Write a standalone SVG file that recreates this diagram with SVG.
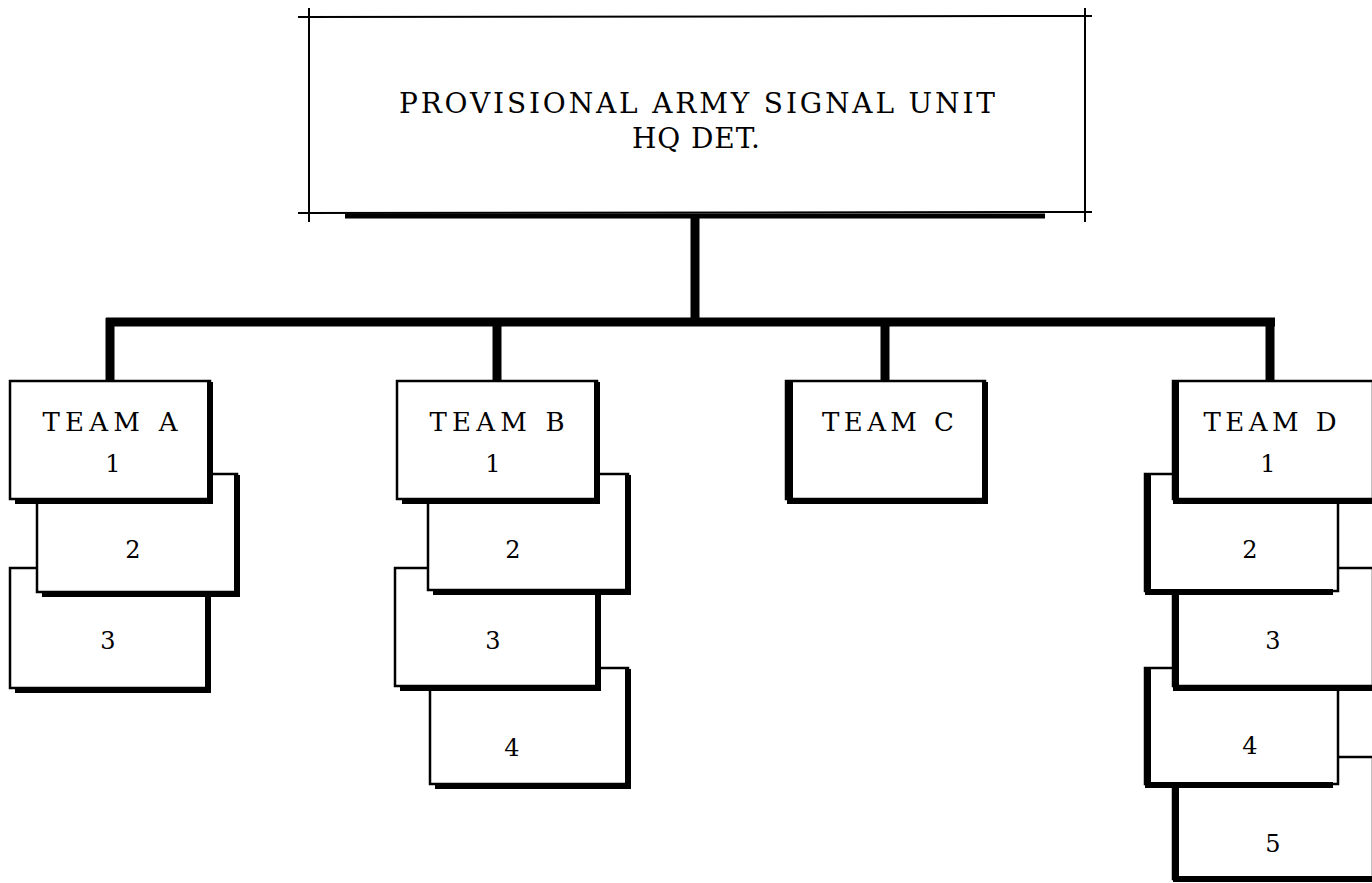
<svg xmlns="http://www.w3.org/2000/svg" width="1372" height="883" viewBox="0 0 1372 883">
<style>
.b{fill:#fff;stroke:#000;stroke-width:2.5}
.s{fill:none;stroke:#000;stroke-width:6;stroke-linecap:square}
.t{font-family:"DejaVu Serif","Liberation Serif",serif;font-size:26px;fill:#000;text-anchor:middle}
.n{font-family:"DejaVu Serif","Liberation Serif",serif;font-size:24px;fill:#000;text-anchor:middle}
.h{font-family:"DejaVu Serif","Liberation Serif",serif;font-size:28px;fill:#000;text-anchor:middle}
.c{fill:none;stroke:#000;stroke-width:9}
.l{fill:none;stroke:#000;stroke-width:2}
</style>
<g id="connectors">
<line class="c" x1="695" y1="218" x2="695" y2="322"/>
<line class="c" x1="106" y1="322" x2="1275" y2="322"/>
<line class="c" x1="110" y1="318" x2="110" y2="382"/>
<line class="c" x1="497" y1="318" x2="497" y2="382"/>
<line class="c" x1="885" y1="318" x2="885" y2="382"/>
<line class="c" x1="1270" y1="318" x2="1270" y2="382"/>
</g>
<g id="hq">
<rect x="309" y="17" width="776" height="196" fill="#fff"/>
<line class="l" x1="298" y1="17" x2="1092" y2="16"/>
<line class="l" x1="298" y1="213" x2="1092" y2="212"/>
<line class="l" x1="309" y1="8" x2="309" y2="222"/>
<line class="l" x1="1085" y1="8" x2="1085" y2="222"/>
<line x1="345" y1="216" x2="1045" y2="216" stroke="#000" stroke-width="5"/>
<text class="h" x="697" y="113" textLength="596" lengthAdjust="spacing">PROVISIONAL ARMY SIGNAL UNIT</text>
<text class="h" x="696" y="148" textLength="128" lengthAdjust="spacing">HQ DET.</text>
</g>
<g id="teamA">
<rect class="b" x="10" y="568" width="198" height="120"/><path class="s" d="M208 572V690H18"/>
<text class="n" x="108" y="649">3</text>
<rect class="b" x="37" y="474" width="200" height="118"/><path class="s" d="M237 478V594H45"/>
<text class="n" x="133" y="558">2</text>
<rect class="b" x="10" y="381" width="200" height="118"/><path class="s" d="M210 385V501H18"/>
<text class="t" x="110" y="431" textLength="135" lengthAdjust="spacing">TEAM A</text>
<text class="n" x="113" y="472">1</text>
</g>
<g id="teamB">
<rect class="b" x="430" y="668" width="198" height="116"/><path class="s" d="M628 672V786H438"/>
<text class="n" x="512" y="756">4</text>
<rect class="b" x="395" y="568" width="203" height="118"/><path class="s" d="M598 572V688H403"/>
<text class="n" x="493" y="649">3</text>
<rect class="b" x="428" y="474" width="200" height="116"/><path class="s" d="M628 478V592H436"/>
<text class="n" x="513" y="558">2</text>
<rect class="b" x="397" y="381" width="200" height="118"/><path class="s" d="M597 385V501H405"/>
<text class="t" x="497" y="431" textLength="135" lengthAdjust="spacing">TEAM B</text>
<text class="n" x="493" y="472">1</text>
</g>
<g id="teamC">
<rect class="b" x="786" y="381" width="199" height="118"/><path class="s" d="M985 385V501H790V385"/>
<text class="t" x="888" y="431" textLength="132" lengthAdjust="spacing">TEAM C</text>
</g>
<g id="teamD">
<rect class="b" x="1173" y="757" width="200" height="122"/><path class="s" d="M1176 761V879H1370"/>
<text class="n" x="1273" y="852">5</text>
<rect class="b" x="1145" y="668" width="193" height="116"/><path class="s" d="M1148 672V785H1330"/>
<text class="n" x="1250" y="754">4</text>
<rect class="b" x="1173" y="568" width="200" height="118"/><path class="s" d="M1176 572V688H1370"/>
<text class="n" x="1273" y="649">3</text>
<rect class="b" x="1145" y="474" width="193" height="117"/><path class="s" d="M1148 478V592H1330"/>
<text class="n" x="1250" y="558">2</text>
<rect class="b" x="1173" y="381" width="200" height="118"/><path class="s" d="M1176 385V501H1370"/>
<text class="t" x="1270" y="431" textLength="133" lengthAdjust="spacing">TEAM D</text>
<text class="n" x="1268" y="472">1</text>
</g>
</svg>
